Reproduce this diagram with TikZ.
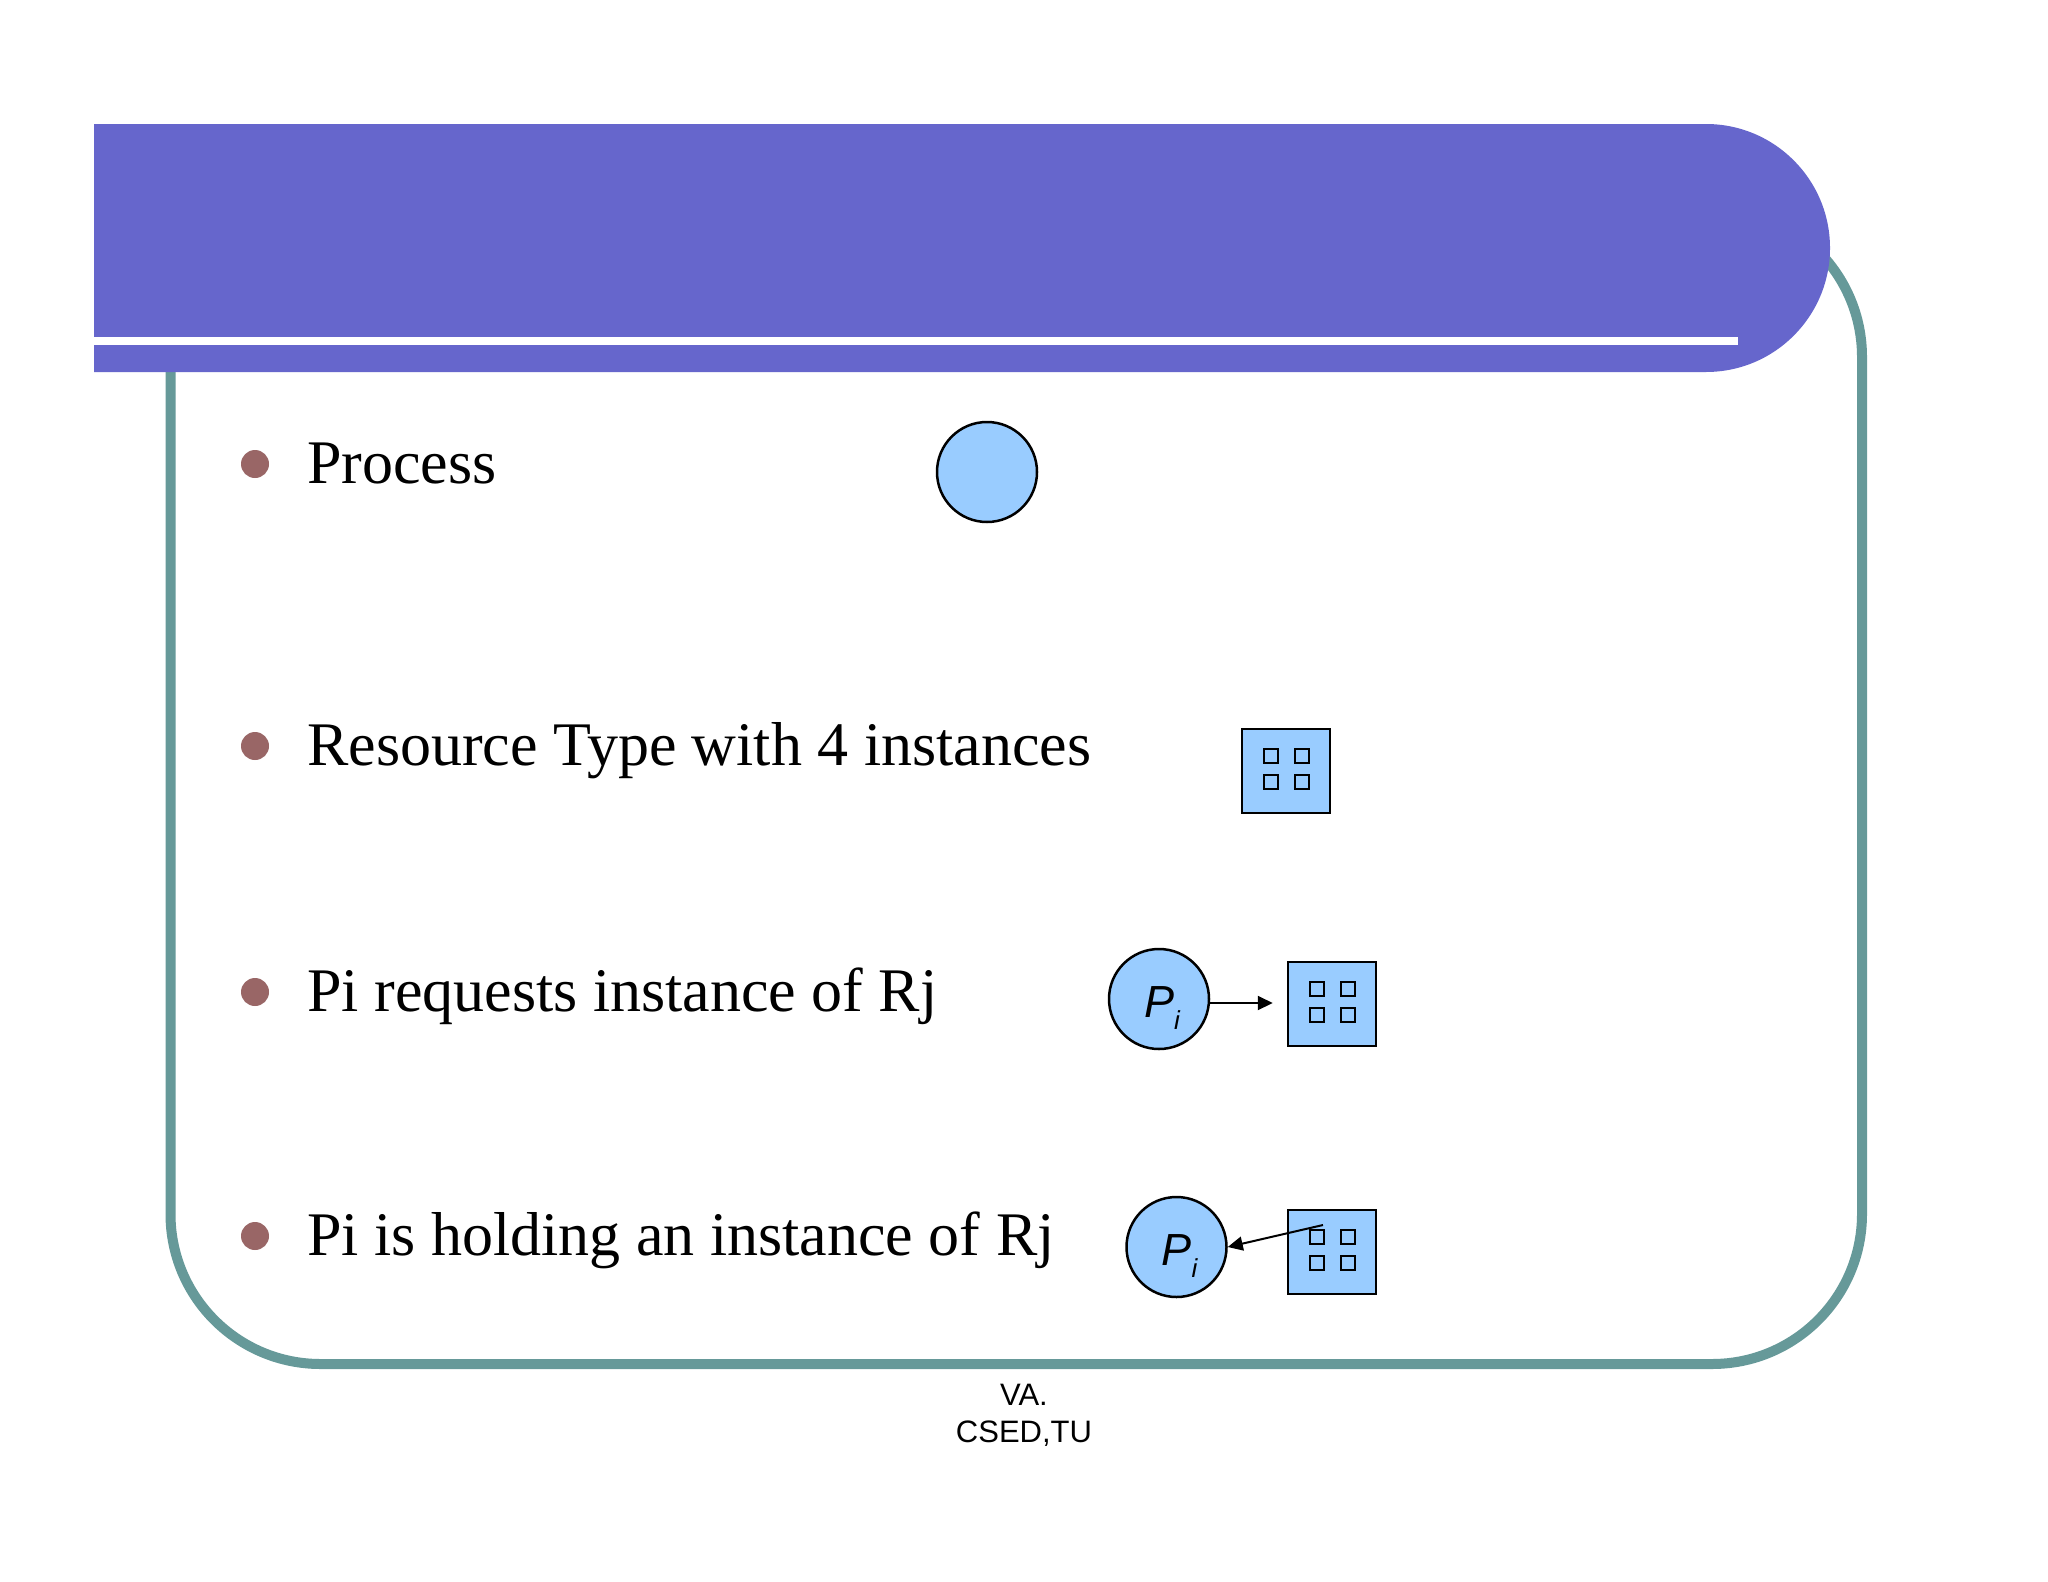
\documentclass[tikz,border=0pt]{standalone}
\usepackage{fontspec}
\setmainfont{Liberation Serif}
\newfontfamily\sansfam{Liberation Sans}
\usetikzlibrary{arrows.meta,calc}
\definecolor{barcol}{RGB}{102,102,204}
\definecolor{framecol}{RGB}{102,153,153}
\definecolor{bulcol}{RGB}{153,102,102}
\definecolor{nodeblue}{RGB}{153,204,255}
\begin{document}
\begin{tikzpicture}[x=1pt,y=-1pt,
 bullet/.style={circle,fill=bulcol,minimum size=28pt,inner sep=0pt},
 itemtext/.style={anchor=base west,inner sep=0pt,font=\fontsize{62}{74}\selectfont},
 procnode/.style={circle,draw=black,line width=2.5pt,fill=nodeblue,minimum size=100pt,inner sep=0pt},
 resnode/.style={rectangle,draw=black,line width=2.5pt,fill=nodeblue,minimum width=88pt,minimum height=84pt,inner sep=0pt},
 instnode/.style={rectangle,draw=black,line width=2pt,fill=nodeblue,minimum size=14pt,inner sep=0pt},
 plabel/.style={anchor=base,inner sep=0pt,font=\sansfam\itshape\fontsize{45}{50}\selectfont},
 edge/.style={line width=2pt,-{Triangle[length=15pt,width=14pt]}},
 foot/.style={anchor=base,inner sep=0pt,font=\sansfam\fontsize{31}{37}\selectfont}
]
\useasboundingbox (0,0) rectangle (2048,1582);
\fill[white] (0,0) rectangle (2048,1582);
% frame
\draw[framecol,line width=10pt,rounded corners=150pt] (170.5,207) rectangle (1862,1364);
% title bar
\fill[barcol] (94,124) -- (1706,124) arc(-90:90:124) -- (94,372) -- cycle;
\fill[white] (94,337) rectangle (1738,345);
% bullets and texts
\node[bullet] (b1) at (255,464) {};
\node[bullet] (b2) at (255,746) {};
\node[bullet] (b3) at (255,992) {};
\node[bullet] (b4) at (255,1236) {};
\node[itemtext] (t1) at (307,483) {Process};
\node[itemtext] (t2) at (307,765) {Resource Type with 4 instances};
\node[itemtext] (t3) at (307,1011) {Pi requests instance of Rj};
\node[itemtext] (t4) at (307,1255) {Pi is holding an instance of Rj};
% symbols
\node[procnode] (p0) at (987,472) {};
\node[resnode] (r1) at (1286,771) {};
\node[procnode] (p1) at (1159,999) {};
\node[resnode] (r2) at (1332,1004) {};
\node[procnode] (p2) at (1176.5,1247) {};
\node[resnode] (r3) at (1332,1252) {};
\foreach \r in {r1,r2,r3} {
  \foreach \dx/\dy/\n in {-15/-15/a,16/-15/b,-15/11/c,16/11/d} {
    \node[instnode] (\r\n) at ([shift={(\dx,\dy)}]\r.center) {};
  }
}
\node[plabel] (l1) at ([shift={(3,18)}]p1.center) {P\raisebox{-12pt}{\fontsize{26}{26}\selectfont i}};
\node[plabel] (l2) at ([shift={(3,18)}]p2.center) {P\raisebox{-12pt}{\fontsize{26}{26}\selectfont i}};
\draw[edge,shorten >=14pt] ([yshift=-4pt]p1.east) -- ([yshift=-4pt]p1.east -| r2.west);
\coordinate (h3) at (1323,1225);
\draw[edge] (h3) -- (p2.east);
% footer
\node[foot] (f1) at (1024,1405) {VA.};
\node[foot] (f2) at (1024,1442) {CSED,TU};
\end{tikzpicture}
\end{document}
